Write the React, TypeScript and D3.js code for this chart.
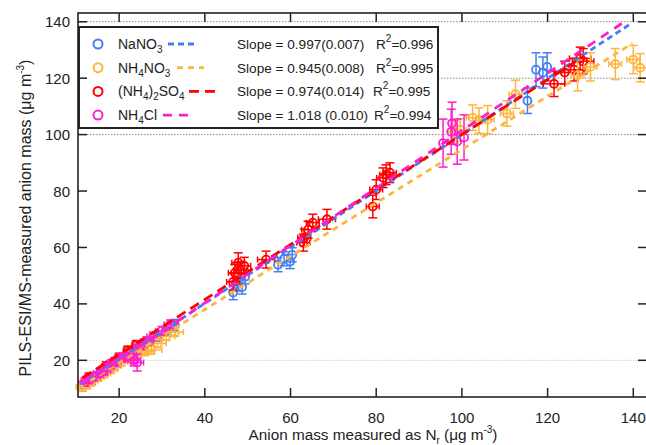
import React, { useEffect } from 'react';
import * as d3 from 'd3';

const xTicks = [20, 40, 60, 80, 100, 120, 140];
const yTicks = [20, 40, 60, 80, 100, 120, 140];
const gridValues = [20, 100, 120, 140];

const seriesKeys = ['na', 'an', 'as', 'ac'];
const slopes = [0.997, 0.945, 0.974, 1.018];
const intercepts = [0.3, 0.2, 2.6, -0.4];
const fitStart = [11, 11, 11.5, 11.5];
const fitEnd = [139.5, 139.8, 128.5, 138.5];
const slopeTexts = ['Slope = 0.997(0.007)', 'Slope = 0.945(0.008)', 'Slope = 0.974(0.014)', 'Slope = 1.018 (0.010)'];
const r2Texts = ['=0.996', '=0.995', '=0.995', '=0.994'];

// NaNO3
const naX = [12, 13.5, 15, 16.5, 18, 19.5, 21, 22.5, 24, 25.5, 27, 29, 31, 33, 46.6, 47.5, 48.7, 49.4, 57.1, 58.5, 59.9, 60.4, 115.3, 117.3, 118.9, 119.9];
const naY = [11.5, 12.8, 14.5, 16, 17.5, 19, 20.8, 21.8, 23.5, 24.8, 26.5, 28.2, 30.5, 32.5, 44, 47, 46, 49.6, 53.9, 56, 55, 57.4, 112, 123, 122, 124];
const naYErr = [1.5, 1.5, 1.5, 1.5, 1.5, 1.5, 1.5, 1.5, 1.5, 1.5, 1.5, 1.5, 1.5, 2, 2.5, 2.5, 2.5, 2.5, 2.5, 2.5, 2.5, 2.5, 4.5, 6, 5.5, 5];
const naXErr = [0.8, 0.8, 0.8, 0.8, 0.8, 0.8, 0.8, 0.8, 0.8, 0.8, 0.8, 0.8, 0.8, 0.8, 0, 0, 0, 0, 0, 0, 0, 0, 0, 0, 0, 0];

// NH4NO3
const anX = [11.5, 12.5, 13.5, 15, 16.5, 18, 19, 20.5, 22, 23, 24.5, 26, 27.5, 29, 31, 33, 98.2, 99.6, 102.5, 104, 106, 110.5, 112.5, 127, 130, 135.8, 140, 141.6];
const anY = [10.5, 11.5, 12.5, 14, 15.3, 16.8, 18, 19.5, 20.5, 21.5, 22.5, 23.2, 23.7, 26, 28.5, 30, 101, 101.7, 106, 105, 105.3, 107.5, 114.3, 121, 124, 125, 126.6, 123.7];
const anYErr = [1.5, 1.5, 1.5, 1.5, 1.5, 1.5, 1.5, 1.5, 1.5, 1.5, 1.5, 1.5, 1.5, 1.5, 1.5, 1.5, 4, 4, 4.5, 4.5, 5, 4.5, 5, 5.5, 5, 5.5, 5, 5];
const anXErr = [1.5, 1.5, 1.5, 1.5, 1.5, 1.5, 1.5, 1.5, 1.5, 1.5, 2, 2, 2.5, 2, 2, 2, 1.5, 1.5, 1.5, 1.5, 1.5, 1.5, 1.5, 1.5, 1.5, 1.5, 1.5, 1.5];

// (NH4)2SO4
const asX = [13, 17, 20, 22, 24, 46.6, 47, 47.8, 48.2, 49.2, 54.3, 63, 63.2, 64.1, 65.2, 68.5, 79.2, 80, 81.6, 82.3, 83.2, 121.5, 124, 126.2, 127.6, 128.3];
const asY = [14, 18, 21, 23.5, 25.5, 47.8, 51, 54.6, 52, 53.5, 55.7, 61.7, 63.5, 66.3, 68.8, 70, 74.5, 80.5, 84.7, 85.8, 86.5, 118, 122, 123, 127, 126];
const asYErr = [1.5, 1.5, 1.5, 1.5, 1.5, 3, 3, 3.5, 3, 3, 3, 3, 3, 3, 3, 3.5, 4, 3.5, 3.5, 3.5, 3.5, 4.5, 4, 4, 4, 4.5];
const asXErr = [1, 1, 1, 1, 1, 1.5, 1.5, 1.5, 1.5, 1.5, 2, 1.5, 1.5, 1.5, 1.5, 2, 1.5, 1.5, 1.5, 1.5, 1.5, 2.5, 2.5, 2.5, 2.5, 2.5];

// NH4Cl
const acX = [12, 13, 14, 15.5, 16.5, 18, 19, 20.5, 21.5, 22.5, 23.5, 24.2, 25, 26.5, 28, 30, 32, 95.6, 97.5, 97.7, 98.9, 100.5];
const acY = [12.3, 13.5, 14.2, 15.5, 16.3, 18.5, 19.5, 20.8, 21.2, 22.3, 20, 19.2, 25.3, 26.8, 28.5, 30.5, 32.8, 97, 101, 104, 97.5, 99];
const acYErr = [1.5, 1.5, 1.5, 1.5, 1.5, 1.5, 1.5, 1.5, 1.5, 1.5, 2, 3, 1.5, 1.5, 1.5, 1.5, 1.5, 8.5, 8, 7.5, 8, 8];
const acXErr = [1.5, 1.5, 1.5, 1.5, 1.5, 1.5, 1.5, 1.5, 1.5, 1.5, 1.5, 1.5, 1.5, 1.5, 1.5, 1.5, 1.5, 0, 0, 0, 0, 0];

const colors: Record<string, string> = { na: '#437ef2', an: '#ffb43c', as: '#ff0000', ac: '#ff1ecb' };
const dashes: Record<string, string> = { na: '6,4', an: '6,5', as: '10,6', ac: '9,7' };

const seriesData: Record<string, { x: number[]; y: number[]; ye: number[]; xe: number[] }> = {
  na: { x: naX, y: naY, ye: naYErr, xe: naXErr },
  an: { x: anX, y: anY, ye: anYErr, xe: anXErr },
  as: { x: asX, y: asY, ye: asYErr, xe: asXErr },
  ac: { x: acX, y: acY, ye: acYErr, xe: acXErr },
};

const drawOrder = ['na', 'as', 'an', 'ac'];

const FONT = 'Liberation Sans, Arial, sans-serif';

export default function App() {
  useEffect(() => {
    document.body.style.margin = '0';
  }, []);

  const W = 646, H = 445;
  const left = 78, right = 647, top = 13, bottom = 397;
  const x = d3.scaleLinear().domain([10.4, 143.2]).range([left, right]);
  const y = d3.scaleLinear().domain([7, 143.1]).range([bottom, top]);
  const tickLen = 9;

  const renderLegendLabel = (k: string) => {
    const sub = { fontSize: 10 } as any;
    if (k === 'na')
      return (<>NaNO<tspan dy={4} style={sub}>3</tspan></>);
    if (k === 'an')
      return (<>NH<tspan dy={4} style={sub}>4</tspan><tspan dy={-4}>NO</tspan><tspan dy={4} style={sub}>3</tspan></>);
    if (k === 'as')
      return (<>(NH<tspan dy={4} style={sub}>4</tspan><tspan dy={-4}>)</tspan><tspan dy={4} style={sub}>2</tspan><tspan dy={-4}>SO</tspan><tspan dy={4} style={sub}>4</tspan></>);
    return (<>NH<tspan dy={4} style={sub}>4</tspan><tspan dy={-4}>Cl</tspan></>);
  };
  const legendDash = [[168, 196], [177, 204], [189, 216], [163, 189]];
  const r2X = [376, 376, 373, 374];

  return (
    <svg width={W} height={H} style={{ position: 'absolute', left: 0, top: 0, background: '#fff' }} fontFamily={FONT}>
      <rect x={0} y={0} width={W} height={H} fill="#fff" />
      {gridValues.map((g) => (
        <line key={'g' + g} x1={left} x2={right} y1={y(g)} y2={y(g)} stroke={g === 20 ? '#c8c8c8' : '#888'} strokeWidth={1} strokeDasharray="1.5,1.5" />
      ))}
      {drawOrder.map((k) => {
        const d = seriesData[k];
        const c = colors[k];
        return (
          <g key={'s' + k}>
            {d.x.map((xv, i) => {
              const cx = x(xv), cy = y(d.y[i]);
              const ye = d.ye[i], xe = d.xe[i];
              return (
                <g key={i} stroke={c} strokeWidth={1.5} fill="none">
                  <line x1={cx} x2={cx} y1={y(d.y[i] + ye)} y2={y(d.y[i] - ye)} />
                  <line x1={cx - 4.5} x2={cx + 4.5} y1={y(d.y[i] + ye)} y2={y(d.y[i] + ye)} />
                  <line x1={cx - 4.5} x2={cx + 4.5} y1={y(d.y[i] - ye)} y2={y(d.y[i] - ye)} />
                  {xe > 0 && (
                    <>
                      <line x1={x(xv - xe)} x2={x(xv + xe)} y1={cy} y2={cy} />
                      <line x1={x(xv - xe)} x2={x(xv - xe)} y1={cy - 3} y2={cy + 3} />
                      <line x1={x(xv + xe)} x2={x(xv + xe)} y1={cy - 3} y2={cy + 3} />
                    </>
                  )}
                  <circle cx={cx} cy={cy} r={4} fill="none" strokeWidth={1.8} />
                </g>
              );
            })}
          </g>
        );
      })}
      {seriesKeys.map((k, i) => {
        const pts: [number, number][] = [fitStart[i], fitEnd[i]].map((v) => [x(v), y(slopes[i] * v + intercepts[i])] as [number, number]);
        const path = d3.line()(pts) || '';
        return <path key={'f' + k} d={path} stroke={colors[k]} strokeWidth={2.8} strokeDasharray={dashes[k]} fill="none" />;
      })}
      <rect x={79} y={27} width={359} height={101} fill="#fff" stroke="#222" strokeWidth={2} />
      {seriesKeys.map((k, i) => {
        const ly = 44 + i * 23.7;
        return (
          <g key={'l' + k}>
            <circle cx={98} cy={ly} r={4.5} fill="none" stroke={colors[k]} strokeWidth={2} />
            <text x={118} y={ly + 5} fontSize={14} fill="#222">{renderLegendLabel(k)}</text>
            <line x1={legendDash[i][0]} x2={legendDash[i][1]} y1={ly} y2={ly} stroke={colors[k]} strokeWidth={2.8} strokeDasharray={dashes[k]} />
            <text x={237} y={ly + 5} fontSize={13.6} fill="#222">{slopeTexts[i]}</text>
            <text x={r2X[i]} y={ly + 5} fontSize={13.6} fill="#222">R<tspan dy={-7} fontSize={10}>2</tspan><tspan dy={7}>{r2Texts[i]}</tspan></text>
          </g>
        );
      })}
      <rect x={left} y={top} width={right - left} height={bottom - top} fill="none" stroke="#222" strokeWidth={1.6} />
      {xTicks.map((t) => (
        <g key={'xt' + t}>
          <line x1={x(t)} x2={x(t)} y1={bottom} y2={bottom - tickLen} stroke="#222" strokeWidth={1.5} />
          <line x1={x(t)} x2={x(t)} y1={top} y2={top + tickLen} stroke="#222" strokeWidth={1.5} />
          <text x={x(t)} y={423} textAnchor="middle" fontSize={15} fill="#222">{t}</text>
        </g>
      ))}
      {yTicks.map((t) => (
        <g key={'yt' + t}>
          <line x1={left} x2={left + tickLen} y1={y(t)} y2={y(t)} stroke="#222" strokeWidth={1.5} />
          <line x1={right} x2={right - tickLen} y1={y(t)} y2={y(t)} stroke="#222" strokeWidth={1.5} />
          <text x={70} y={y(t) + 5.5} textAnchor="end" fontSize={15} fill="#222">{t}</text>
        </g>
      ))}
      <text x={373} y={440} textAnchor="middle" fontSize={15.3} fill="#222">
        Anion mass measured as N<tspan dy={4} fontSize={10}>r</tspan><tspan dy={-4}> (μg m</tspan><tspan dy={-7} fontSize={10}>-3</tspan><tspan dy={7}>)</tspan>
      </text>
      <text transform={`translate(31,218) rotate(-90)`} textAnchor="middle" fontSize={16} fill="#222">
        PILS-ESI/MS-measured anion mass (μg m<tspan dy={-7} fontSize={10}>-3</tspan><tspan dy={7}>)</tspan>
      </text>
    </svg>
  );
}
